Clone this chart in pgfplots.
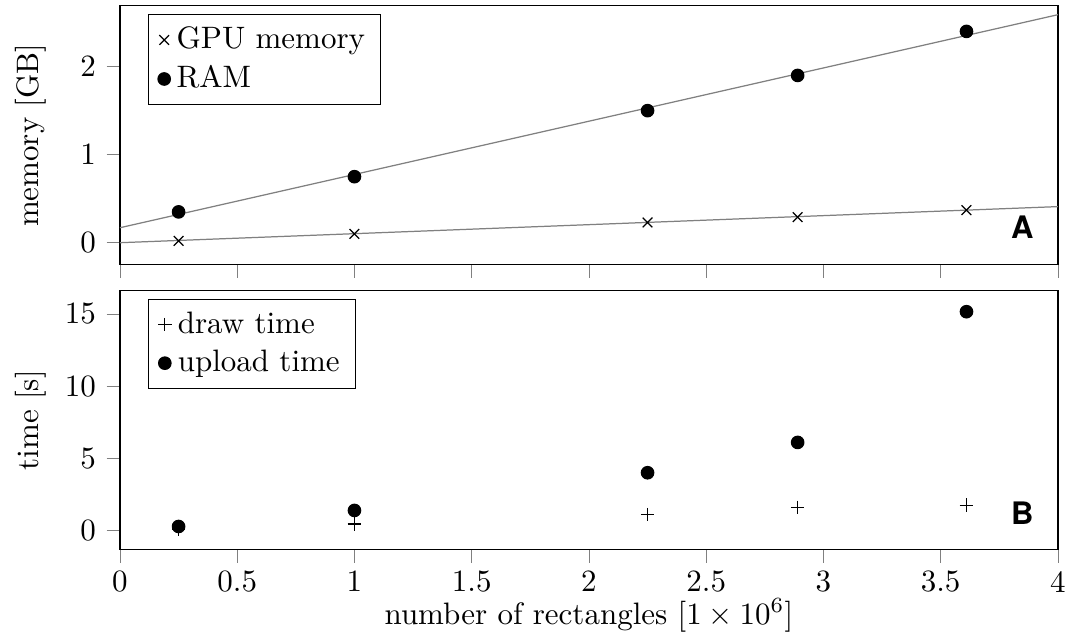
\documentclass[border=0pt]{standalone}
\usepackage{fontspec}
\usepackage{pgfplots}
\pgfplotsset{compat=1.18}
\newfontfamily\heros{TeX Gyre Heros}

\pgfplotsset{
  panel/.style={
    scale only axis,
    width=302.6pt, height=83.5pt,
    xmin=0, xmax=4,
    tick align=outside,
    tick pos=left,
    xtick={0,0.5,1,1.5,2,2.5,3,3.5,4},
    xticklabel style={inner ysep=0pt, yshift=-2.5pt},
    ylabel style={at={(rel axis cs:-0.095,0.5)}, anchor=center},
    legend pos=north west,
    legend cell align=left,
    legend style={draw=black, inner xsep=3pt, inner ysep=2pt},
  },
}

\begin{document}
\begin{tikzpicture}
\begin{axis}[
    panel,
    name=top,
    ymin=-0.25, ymax=2.69,
    ytick={0,1,2},
    xticklabels={},
    ylabel={memory [GB]},
]
\addplot[only marks, mark=x, mark size=2.2pt] coordinates {
    (0.25, 0.02) (1, 0.10) (2.25, 0.23) (2.89, 0.29) (3.61, 0.37)
};
\addlegendentry{GPU memory}
\addplot[only marks, mark=*, mark size=2pt] coordinates {
    (0.25, 0.35) (1, 0.75) (2.25, 1.50) (2.89, 1.90) (3.61, 2.40)
};
\addlegendentry{RAM}
% linear fits
\addplot[gray, forget plot] coordinates {(0, 0.0) (4, 0.41)};
\addplot[gray, forget plot] coordinates {(0, 0.17) (4, 2.59)};
\node[font=\heros\bfseries] at (rel axis cs:0.962,0.143) {A};
\end{axis}

\begin{axis}[
    panel,
    name=bot,
    at={(top.south west)}, anchor=north west, yshift=-8.4pt,
    ymin=-1.32, ymax=16.6,
    ytick={0,5,10,15},
    xticklabels={0,0.5,1,1.5,2,2.5,3,3.5,4},
    ylabel={time [s]},
    xlabel={number of rectangles [$1\times10^{6}$]},
    xlabel style={at={(rel axis cs:0.5,0)}, anchor=center, inner sep=0pt, yshift=-21.2pt},
]
\addplot[only marks, mark=+, mark size=2.2pt] coordinates {
    (0.25, 0.1) (1, 0.45) (2.25, 1.1) (2.89, 1.6) (3.61, 1.75)
};
\addlegendentry{draw time}
\addplot[only marks, mark=*, mark size=2pt] coordinates {
    (0.25, 0.28) (1, 1.39) (2.25, 4.0) (2.89, 6.1) (3.61, 15.15)
};
\addlegendentry{upload time}
\node[font=\heros\bfseries] at (rel axis cs:0.962,0.139) {B};
\end{axis}

\pgfresetboundingbox
\path[use as bounding box]
  ([xshift=-38.7pt,yshift=1.9pt]top.north west)
  rectangle ([xshift=3.9pt,yshift=-28pt]bot.south east);
\end{tikzpicture}
\end{document}
